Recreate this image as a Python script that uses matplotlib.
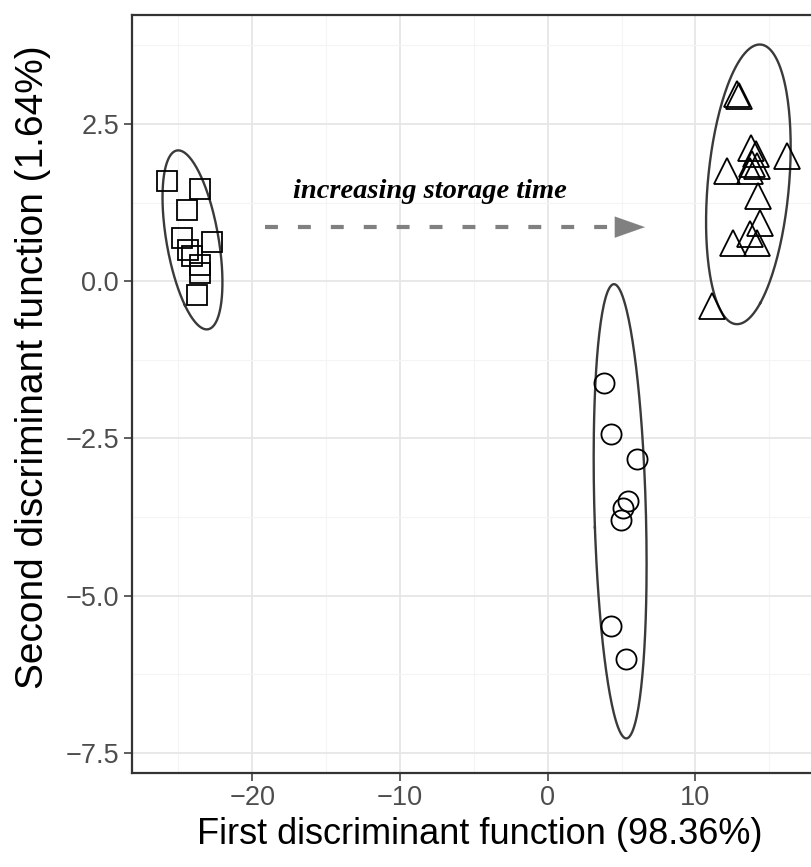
import numpy as np
import matplotlib
matplotlib.use("Agg")
import matplotlib.pyplot as plt

# ---- data ----
sq_x = [-25.75, -23.54, -24.41, -24.78, -22.75, -24.33, -24.10, -23.54, -23.54, -23.77]
sq_y = [1.59, 1.46, 1.14, 0.68, 0.63, 0.50, 0.40, 0.26, 0.13, -0.22]

ci_x = [3.81, 4.29, 6.05, 5.44, 5.10, 4.96, 4.29, 5.30]
ci_y = [-1.62, -2.43, -2.83, -3.50, -3.61, -3.80, -5.48, -6.01]

tr_x = [12.82, 12.95, 16.20, 12.14, 13.76, 14.10, 13.83, 13.70, 14.17, 14.24, 14.37, 13.70, 12.55, 14.17, 11.12]
tr_y = [2.98, 2.94, 1.99, 1.75, 2.12, 2.02, 1.86, 1.75, 1.83, 1.36, 0.93, 0.75, 0.61, 0.61, -0.39]

x_ticks = [-20, -10, 0, 10]
y_ticks = [2.5, 0.0, -2.5, -5.0, -7.5]
x_label = "First discriminant function (98.36%)"
y_label = "Second discriminant function (1.64%)"
arrow_text = "increasing storage time"
arrow_start = (-19.13, 0.86)
arrow_end = (6.59, 0.86)
text_pos = (-17.24, 1.32)

level = 0.95


def ellipse_pts(x, y, level=0.95, n=240):
    """Normal-theory confidence ellipse (chi-square, 2 df)."""
    x = np.asarray(x); y = np.asarray(y)
    r = np.sqrt(-2.0 * np.log(1 - level))
    cov = np.cov(np.vstack([x, y]))
    vals, vecs = np.linalg.eigh(cov)
    t = np.linspace(0, 2 * np.pi, n)
    circ = np.vstack([np.cos(t), np.sin(t)])
    pts = vecs @ (np.sqrt(vals)[:, None] * circ) * r
    return pts[0] + x.mean(), pts[1] + y.mean()


W, H = 811, 867
fig = plt.figure(figsize=(W / 100, H / 100), dpi=100)
fig.patch.set_facecolor("white")
left, bottom = 131.5 / W, (H - 772.7) / H
width, height = (828.3 - 131.5) / W, (772.7 - 15) / H
ax = fig.add_axes([left, bottom, width, height])
ax.set_xlim(-28.18, 19.0)
ax.set_ylim(-7.818, 4.234)

# grid
ax.set_xticks(x_ticks)
ax.set_yticks(y_ticks)
ax.set_xticks([-25, -15, -5, 5, 15], minor=True)
ax.set_yticks([3.75, 1.25, -1.25, -3.75, -6.25], minor=True)
ax.grid(which="major", color="#e6e6e6", linewidth=1.3, zorder=0)
ax.grid(which="minor", color="#f4f4f4", linewidth=0.8, zorder=0)
ax.set_axisbelow(True)
ax.tick_params(which="minor", length=0)
ax.tick_params(which="major", direction="out", length=6, width=1.1,
               color="#333333", labelsize=19.5, labelcolor="#4d4d4d", pad=3)
ax.set_xticklabels(["\u221220", "\u221210", "0", "10"], family="Liberation Sans")
ax.set_yticklabels(["2.5", "0.0", "\u22122.5", "\u22125.0", "\u22127.5"], family="Liberation Sans")

for s in ax.spines.values():
    s.set_color("#333333")
    s.set_linewidth(1.6)

# ellipses
for gx, gy in [(sq_x, sq_y), (ci_x, ci_y), (tr_x, tr_y)]:
    ex, ey = ellipse_pts(gx, gy, level)
    ax.plot(ex, ey, color="#3a3a3a", linewidth=1.7, zorder=3)

# points
ax.plot(sq_x, sq_y, linestyle="none", marker="s", markersize=14.5,
        markerfacecolor="none", markeredgecolor="black", markeredgewidth=1.3, zorder=4)
ax.plot(ci_x, ci_y, linestyle="none", marker="o", markersize=14.5,
        markerfacecolor="none", markeredgecolor="black", markeredgewidth=1.3, zorder=4)
ax.plot(tr_x, tr_y, linestyle="none", marker="^", markersize=18.5,
        markerfacecolor="none", markeredgecolor="black", markeredgewidth=1.3, zorder=4)

# arrow: dashed shaft + filled head
head_len = 2.0
ax.plot([arrow_start[0], arrow_end[0] - head_len], [arrow_start[1], arrow_end[1]],
        color="#808080", linewidth=3, dashes=(3.1, 4.8), dash_capstyle="butt", zorder=2)
ax.annotate("", xy=arrow_end, xytext=(arrow_end[0] - head_len, arrow_end[1]),
            arrowprops=dict(arrowstyle="-|>,head_length=1.08,head_width=0.38",
                            mutation_scale=20, color="#808080", linewidth=0.1,
                            shrinkA=0, shrinkB=0),
            zorder=2)
ax.text(text_pos[0], text_pos[1], arrow_text, family="Liberation Serif",
        fontweight="bold", fontstyle="italic", fontsize=20.5, ha="left",
        va="baseline", color="black", zorder=5)

ax.set_xlabel(x_label, family="Liberation Sans", fontsize=26, color="black")
ax.set_ylabel(y_label, family="Liberation Sans", fontsize=28, color="black")
ax.xaxis.set_label_coords(0.5, -0.058)
ax.yaxis.set_label_coords(-0.116, 0.535)

fig.savefig("out.png", dpi=100)
